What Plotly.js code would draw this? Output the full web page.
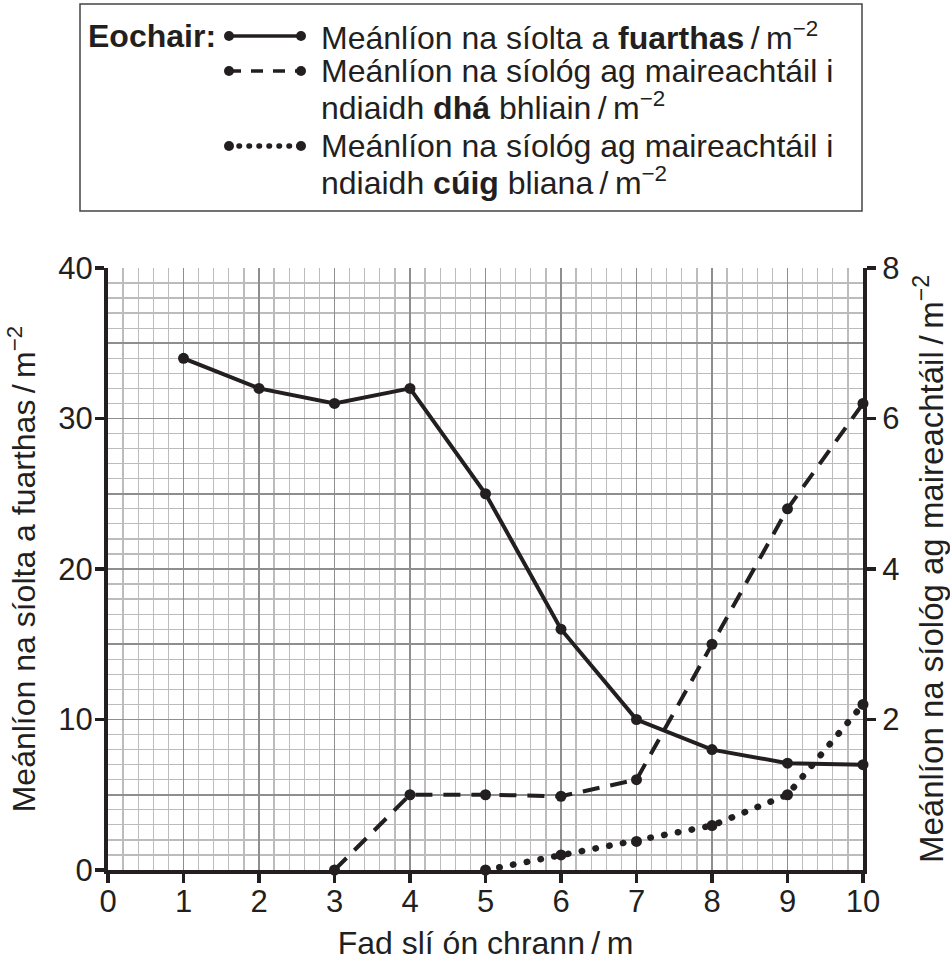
<!DOCTYPE html>
<html>
<head>
<meta charset="utf-8">
<script src="https://cdn.plot.ly/plotly-3.0.1.min.js"></script>
<style>
  html, body { margin: 0; padding: 0; background: #fff; }
  #chart { width: 950px; height: 963px; }
  .round-cap { stroke-linecap: round; }
</style>
</head>
<body>
<div id="chart"></div>
<script>
// ---- data ----
const distance = [1, 2, 3, 4, 5, 6, 7, 8, 9, 10];
const seedsFound = [34, 32, 31, 32, 25, 16, 10, 8, 7.1, 7.0];

const twoYearX = [3, 4, 5, 6, 7, 8, 9, 10];
const twoYearSurvivors = [0, 1.0, 1.0, 0.98, 1.2, 3.0, 4.8, 6.2];

const fiveYearX = [5, 6, 7, 8, 9, 10];
const fiveYearSurvivors = [0, 0.2, 0.38, 0.59, 1.0, 2.2];

const xTickVals = [0, 1, 2, 3, 4, 5, 6, 7, 8, 9, 10];
const leftTickVals = [0, 10, 20, 30, 40];
const rightTickVals = [2, 4, 6, 8];

const seriesNames = [
  'Meánlíon na síolta a <b>fuarthas</b>',
  'Meánlíon na síológ ag maireachtáil i ndiaidh <b>dhá</b> bhliain',
  'Meánlíon na síológ ag maireachtáil i ndiaidh <b>cúig</b> bliana'
];
const keyLines = [
  ['Meánlíon na síolta a <b>fuarthas</b>\u2009/\u2009m<sup>−2</sup>'],
  ['Meánlíon na síológ ag maireachtáil i', 'ndiaidh <b>dhá</b> bhliain\u2009/\u2009m<sup>−2</sup>'],
  ['Meánlíon na síológ ag maireachtáil i', 'ndiaidh <b>cúig</b> bliana\u2009/\u2009m<sup>−2</sup>']
];
const keyTitle = '<b>Eochair:</b>';
const xTitle = 'Fad slí ón chrann\u2009/\u2009m';
const leftTitle = 'Meánlíon na síolta a fuarthas\u2009/\u2009m<sup>−2</sup>';
const rightTitle = 'Meánlíon na síológ ag maireachtáil\u2009/\u2009m<sup>−2</sup>';

// ---- styling ----
const INK = '#231f20';
const FONT = 'Liberation Sans, Arial, Helvetica, sans-serif';
const W = 950, H = 963;
const M = { l: 108, r: 87, t: 268, b: 93 };
const PW = W - M.l - M.r, PH = H - M.t - M.b;
const px = x => (x - M.l) / PW;
const py = y => (H - M.b - y) / PH;
const font = { family: FONT, size: 31, color: INK };
const keyFont = { family: FONT, size: 32, color: INK };
const titleFont = { family: FONT, size: 32, color: INK };
const rightTitleFont = { family: FONT, size: 33, color: INK };
const DOT_DASH = '0.5px,13.5px';
const KEY_DOT_DASH = '0.5px,9.5px';

const traces = [
  {
    x: distance, y: seedsFound, type: 'scatter', mode: 'lines+markers',
    name: seriesNames[0], yaxis: 'y', showlegend: false, cliponaxis: false,
    line: { color: INK, width: 4 }, marker: { color: INK, size: 11 }
  },
  {
    x: twoYearX, y: twoYearSurvivors, type: 'scatter', mode: 'lines+markers',
    name: seriesNames[1], yaxis: 'y2', showlegend: false, cliponaxis: false,
    line: { color: INK, width: 4, dash: '17px,11px' }, marker: { color: INK, size: 11 }
  },
  {
    x: fiveYearX, y: fiveYearSurvivors, type: 'scatter', mode: 'lines+markers',
    name: seriesNames[2], yaxis: 'y2', showlegend: false, cliponaxis: false,
    line: { color: INK, width: 6.5, dash: DOT_DASH }, marker: { color: INK, size: 11 }
  }
];

// ---- key (legend) drawn as a boxed panel above the plot ----
const shapes = [];
const annotations = [];
shapes.push({ type: 'rect', xref: 'paper', yref: 'paper',
  x0: px(80), x1: px(862), y0: py(211), y1: py(4),
  line: { color: '#444', width: 1.5 }, fillcolor: 'rgba(0,0,0,0)' });
annotations.push({ xref: 'paper', yref: 'paper', x: px(86), y: py(36),
  xanchor: 'left', yanchor: 'middle', showarrow: false, text: keyTitle, font: keyFont });
const keyRows = [36, 71, 146];
const keyDash = ['solid', '12px,10px', KEY_DOT_DASH];
const keyWidth = [3.5, 3.5, 5.5];
keyRows.forEach((yy, i) => {
  shapes.push({ type: 'line', xref: 'paper', yref: 'paper',
    x0: px(229), x1: px(301), y0: py(yy), y1: py(yy),
    line: { color: INK, width: keyWidth[i], dash: keyDash[i] } });
  [229, 301].forEach(cx => {
    shapes.push({ type: 'circle', xref: 'paper', yref: 'paper',
      x0: px(cx - 5), x1: px(cx + 5), y0: py(yy + 5), y1: py(yy - 5),
      fillcolor: INK, line: { color: INK, width: 0 } });
  });
  keyLines[i].forEach((t, j) => {
    annotations.push({ xref: 'paper', yref: 'paper', x: px(319), y: py(yy + 35 * j),
      xanchor: 'left', yanchor: 'middle', align: 'left', showarrow: false,
      text: t, font: keyFont });
  });
});

const layout = {
  width: W, height: H, autosize: false,
  margin: M,
  paper_bgcolor: '#fff', plot_bgcolor: '#fff',
  font: font,
  showlegend: false,
  xaxis: {
    range: [0, 10], tickvals: xTickVals, ticks: 'outside', ticklen: 9, tickwidth: 3.5,
    tickcolor: INK, showline: true, linecolor: INK, linewidth: 4, mirror: false,
    zeroline: false, showgrid: true, gridcolor: '#8e8e8e', gridwidth: 1.8,
    minor: { dtick: 0.2, showgrid: true, gridcolor: '#bcbcbc', gridwidth: 1.3, ticks: '' },
    tickfont: font, ticklabelstandoff: -8,
    title: { text: xTitle, font: titleFont, standoff: 14 },
    fixedrange: true
  },
  yaxis: {
    range: [0, 40], tickvals: leftTickVals, ticks: 'outside', ticklen: 9, tickwidth: 3.5,
    tickcolor: INK, showline: true, linecolor: INK, linewidth: 4, mirror: false,
    zeroline: false, showgrid: false, tickfont: font, ticklabelstandoff: -4,
    title: { text: leftTitle, font: titleFont, standoff: 14 },
    fixedrange: true
  },
  yaxis2: {
    range: [0, 8], overlaying: 'y', side: 'right', tickvals: rightTickVals,
    ticks: 'outside', ticklen: 9, tickwidth: 3.5, tickcolor: INK,
    showline: true, linecolor: INK, linewidth: 4, zeroline: false, showgrid: false,
    tickfont: font, ticklabelstandoff: 0,
    title: { text: rightTitle, font: rightTitleFont, standoff: 28 },
    fixedrange: true
  },
  yaxis3: {
    range: [0, 40], overlaying: 'y', side: 'left', dtick: 5, tick0: 0,
    showticklabels: false, ticks: '', showline: false, zeroline: false,
    showgrid: true, gridcolor: '#8e8e8e', gridwidth: 1.8,
    minor: { dtick: 1, showgrid: true, gridcolor: '#bcbcbc', gridwidth: 1.3, ticks: '' },
    fixedrange: true
  },
  shapes: shapes,
  annotations: annotations
};

// an invisible trace keeps the grid axis alive
traces.unshift({ x: [0], y: [0], yaxis: 'y3', type: 'scatter', mode: 'markers',
  marker: { opacity: 0 }, hoverinfo: 'skip', showlegend: false });

const gd = document.getElementById('chart');
Plotly.newPlot(gd, traces, layout, { staticPlot: true, displayModeBar: false }).then(() => {
  // round the dotted strokes so they read as dots
  gd.querySelectorAll('path').forEach(p => {
    const da = (p.style.strokeDasharray || p.getAttribute('stroke-dasharray') || '').replace(/\s/g, '');
    if (da.startsWith('0.5')) p.classList.add('round-cap');
  });
});
</script>
</body>
</html>
